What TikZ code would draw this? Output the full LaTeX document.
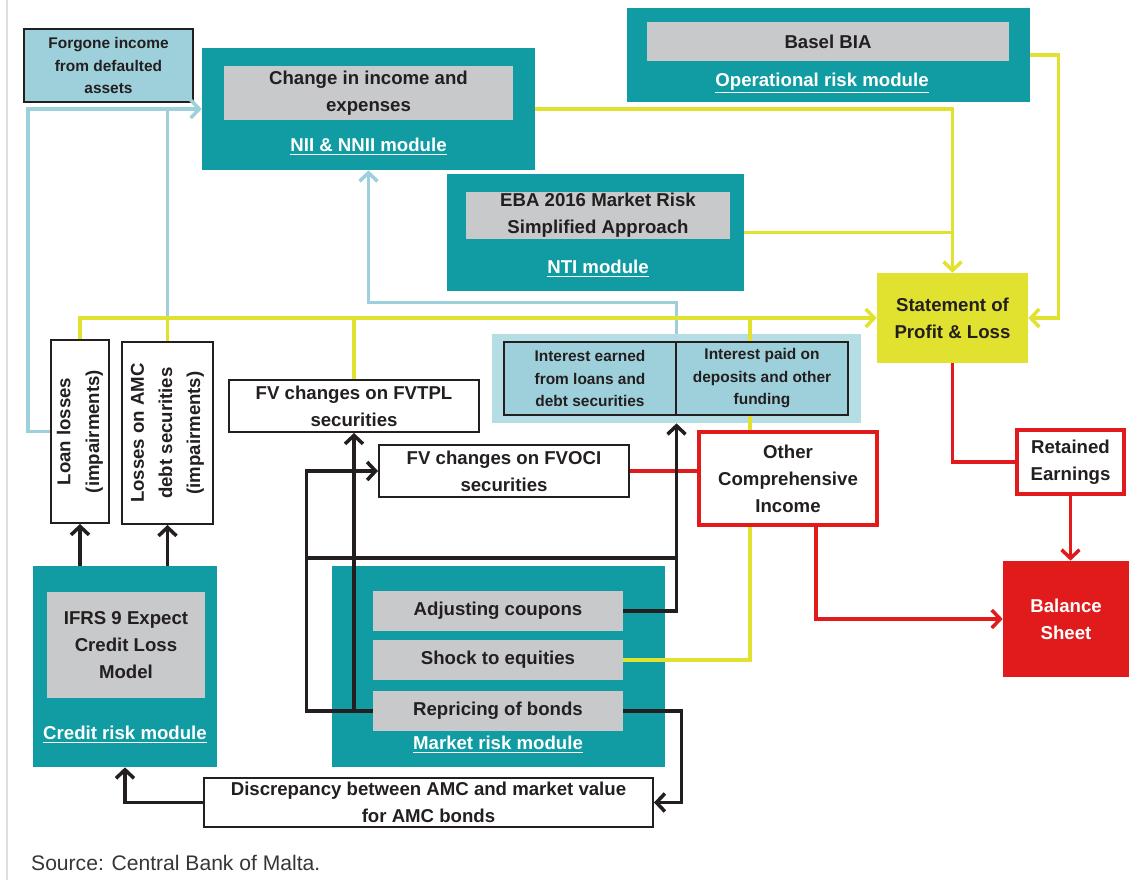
\documentclass[tikz,border=0pt]{standalone}
\usepackage{fontspec}
\setmainfont{Liberation Sans}
\usetikzlibrary{arrows.meta}
\definecolor{modteal}{RGB}{16,156,162}
\definecolor{boxgray}{RGB}{200,201,203}
\definecolor{lblue}{RGB}{157,208,218}
\definecolor{bgblue}{RGB}{180,222,228}
\definecolor{plyellow}{RGB}{225,225,48}
\definecolor{bsred}{RGB}{225,27,27}
\definecolor{ink}{RGB}{35,31,32}

\tikzset{
 >={Straight Barb[length=1.7mm,width=3.6mm]},
 wh/.style 2 args={minimum width=#1*0.02cm, minimum height=#2*0.02cm, inner sep=0pt},
 txt/.style={text=ink, align=center, font=\bfseries\fontsize{10.6}{15.4}\selectfont},
 smalltxt/.style={text=ink, align=center, font=\bfseries\fontsize{8.8}{12.8}\selectfont},
 module/.style={fill=modteal},
 inbox/.style={fill=boxgray, txt},
 modlabel/.style={text=white, font=\bfseries\fontsize{10.6}{15.4}\selectfont},
 wbox/.style={draw=ink, fill=white, line width=1.1pt, txt},
 rbox/.style={draw=bsred, fill=white, line width=1.8pt, txt},
 kline/.style={draw=ink, line width=2pt},
 bline/.style={draw=lblue, line width=2pt},
 yline/.style={draw=plyellow, line width=2pt},
 rline/.style={draw=bsred, line width=2pt},
}

\begin{document}
\begin{tikzpicture}[x=0.02cm, y=-0.02cm]

\useasboundingbox (0,0) rectangle (1131,880);
\draw[gray!25, line width=1pt] (7,0) -- (7,880);

\node[module, wh={333}{122}] (nii) at (368.5,109) {};
\node[inbox, wh={289}{54}] (niiin) at (368.5,93) {Change in income and\\expenses};
\node[modlabel] (niilbl) at (368.5,147) {\underline{NII \& NNII module}};

\node[module, wh={403}{94}] (ops) at (828.5,55) {};
\node[inbox, wh={362}{39}] (opsin) at (828,41.5) {Basel BIA};
\node[modlabel] (opslbl) at (822,83) {\underline{Operational risk module}};

\node[module, wh={297}{117}] (nti) at (595.5,232.5) {};
\node[inbox, wh={264}{47}] (ntiin) at (598,215.5) {EBA 2016 Market Risk\\Simplified Approach};
\node[modlabel] (ntilbl) at (598,269) {\underline{NTI module}};

\node[module, wh={184}{201}] (credit) at (125,666.5) {};
\node[inbox, wh={158}{106}] (ifrs) at (126,645) {IFRS 9 Expect\\Credit Loss\\Model};
\node[modlabel] (crlbl) at (125,735) {\underline{Credit risk module}};

\node[module, wh={333}{201}] (market) at (498.5,666.5) {};
\node[inbox, wh={250}{40}] (adj) at (498,611) {Adjusting coupons};
\node[inbox, wh={250}{40}] (shock) at (498,660) {Shock to equities};
\node[inbox, wh={250}{40}] (repr) at (498,711) {Repricing of bonds};
\node[modlabel] (mklbl) at (498,745) {\underline{Market risk module}};

\node[draw=ink, fill=lblue, line width=1.1pt, smalltxt, wh={169}{73}] (forgone) at (108.5,65.5) {Forgone income\\from defaulted\\assets};

\node[fill=plyellow, txt, wh={151}{90}] (stmt) at (952.5,318) {Statement of\\Profit \& Loss};

\node[wbox, wh={58}{183}] (loan) at (80,431.5) {};
\node[txt, rotate=90, font=\bfseries\fontsize{10.6}{16.4}\selectfont] (loantxt) at (loan) {Loan losses\\(impairments)};
\node[wbox, wh={91}{182}] (amc) at (167.5,433) {};
\node[txt, rotate=90, font=\bfseries\fontsize{10.6}{16}\selectfont] (amctxt) at (amc) {Losses on AMC\\debt securities\\(impairments)};

\node[wbox, wh={250}{52}] (fvtpl) at (354,406) {FV changes on FVTPL\\securities};
\node[wbox, wh={250}{52}] (fvoci) at (504,471) {FV changes on FVOCI\\securities};
\node[wbox, wh={449}{49}] (disc) at (428.5,802.5) {Discrepancy between AMC and market value\\for AMC bonds};

\node[rbox, wh={107}{64}] (ret) at (1070.5,462) {Retained\\Earnings};
\node[fill=bsred, txt, text=white, wh={126}{116}] (bal) at (1066,619) {Balance\\Sheet};

\node[fill=bgblue, wh={369}{89}] (intbg) at (676.5,378.5) {};

\draw[bline,->] (loan.west) -- ++(-22,0) |- (nii.west);
\draw[bline] (amc.north |- stmt.west) -- (amc.north |- nii.west);
\draw[bline,->] (intbg.north) -- ++(0,-31) -| (nii.south);

\coordinate (ybus) at (750,318);
\draw[yline,->] (nii.east) -| (stmt.north);
\draw[yline] (nti.east) -- (nti.east -| stmt.north);
\draw[yline,->] (ops.east) -- ++(28,0) |- (stmt.east);
\draw[yline,->] (loan.north) |- (stmt.west);
\draw[yline] (amc.north) -- (amc.north |- stmt.west);
\draw[yline] (fvtpl.north) -- (fvtpl.north |- stmt.west);
\draw[yline] (shock.east) -| (ybus);

\node[draw=ink, fill=lblue, line width=1.1pt, smalltxt, wh={172}{73}] (intl) at (590,378.5) {Interest earned\\from loans and\\debt securities};
\node[draw=ink, fill=lblue, line width=1.1pt, smalltxt, wh={172}{73}] (intr) at (762,378.5) {Interest paid on\\deposits and other\\funding};

\node[rbox, wh={178}{93}] (oci) at (788,478.5) {Other\\Comprehensive\\Income};

\draw[rline] (fvoci.east) -- (oci.west |- fvoci.east);
\draw[rline] (stmt.south) |- (ret.west);
\draw[rline,->] (ret.south) -- (ret.south |- bal.north);
\draw[rline,->] ([xshift=0.56cm]oci.south) |- (bal.west);

\coordinate (kj) at (307,558);
\draw[kline,->] (credit.north -| loan.south) -- (loan.south);
\draw[kline,->] (credit.north -| amc.south) -- (amc.south);
\draw[kline,->] (repr.west) -- ++(-66,0) |- (fvoci.west);
\draw[kline,->] (repr.west -| fvtpl.south) -- (fvtpl.south);
\draw[kline] (kj) -- (kj -| intbg.south);
\draw[kline,->] (adj.east) -| (intbg.south);
\draw[kline,->] (repr.east) -- ++(58,0) |- (disc.east);
\draw[kline,->] (disc.west) -| (credit.south);

\node[anchor=west, text=ink!90, font=\fontsize{12}{14}\selectfont] (src) at (25,863) {Source: Central Bank of Malta.};

\end{tikzpicture}
\end{document}
